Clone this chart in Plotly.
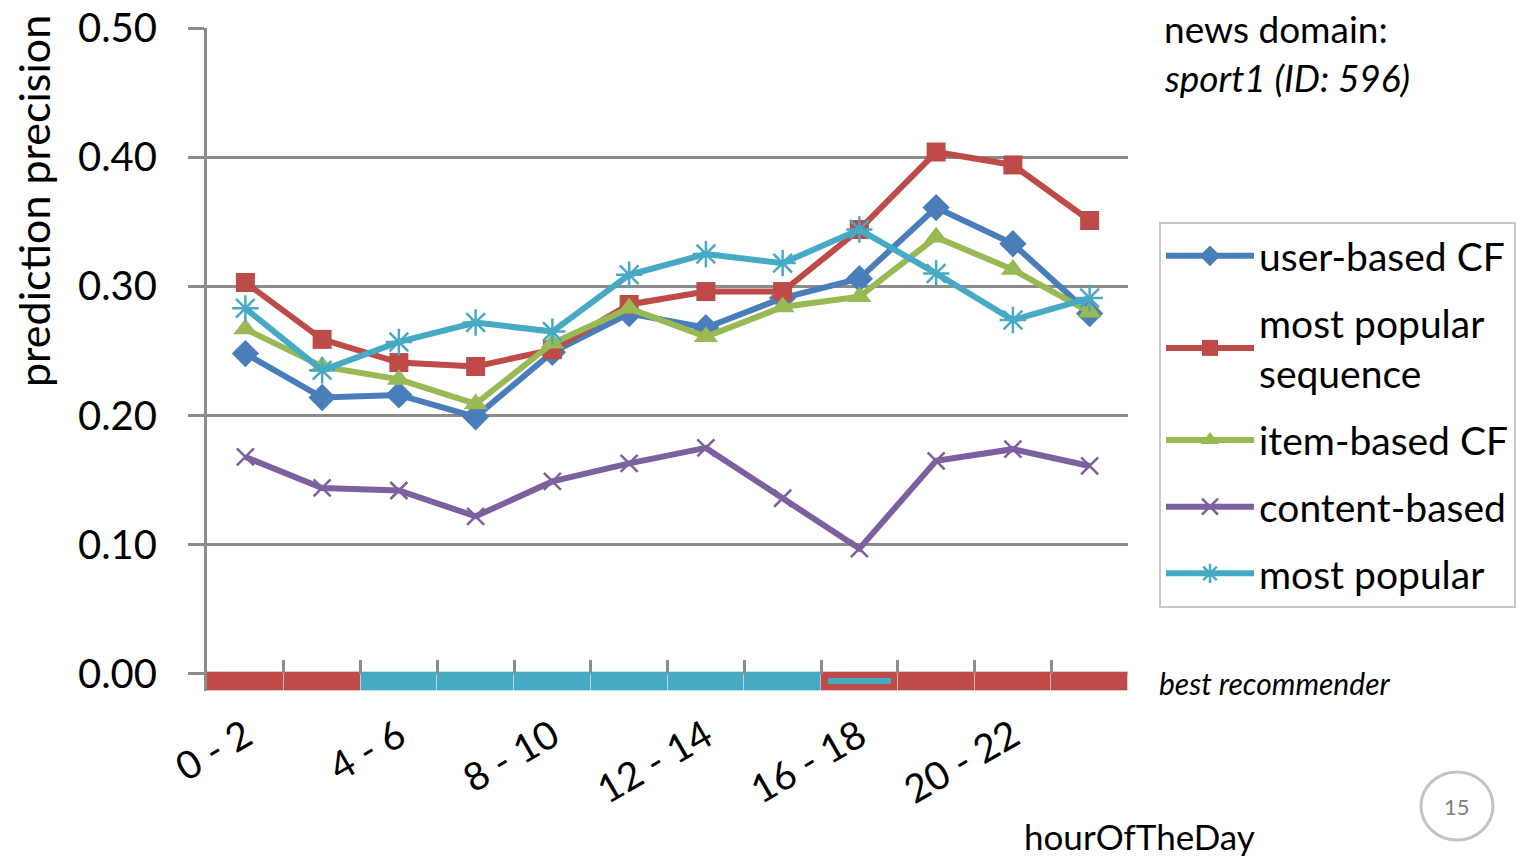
import plotly.graph_objects as go

# Two-hour slots of the day
hours = ["0 - 2", "2 - 4", "4 - 6", "6 - 8", "8 - 10", "10 - 12",
         "12 - 14", "14 - 16", "16 - 18", "18 - 20", "20 - 22", "22 - 24"]
shown_hours = hours[::2]

# Prediction precision per recommender
user_based_cf = [0.248, 0.214, 0.216, 0.199, 0.249, 0.279, 0.268, 0.291, 0.306, 0.361, 0.333, 0.279]
most_popular_sequence = [0.303, 0.259, 0.241, 0.238, 0.251, 0.286, 0.296, 0.296, 0.344, 0.404, 0.394, 0.351]
item_based_cf = [0.267, 0.238, 0.228, 0.209, 0.256, 0.283, 0.261, 0.284, 0.292, 0.338, 0.313, 0.280]
content_based = [0.168, 0.144, 0.142, 0.122, 0.149, 0.163, 0.175, 0.136, 0.097, 0.165, 0.174, 0.161]
most_popular = [0.283, 0.235, 0.257, 0.272, 0.265, 0.309, 0.325, 0.318, 0.344, 0.310, 0.274, 0.291]

y_ticks = [0.0, 0.1, 0.2, 0.3, 0.4, 0.5]
y_ticktext = ["0.00", "0.10", "0.20", "0.30", "0.40", "0.50"]

W, H = 1534, 857
FONT = "Lato, 'Open Sans', sans-serif"

series = [
    ("user-based CF", user_based_cf, "#4A7EBB", dict(symbol="diamond", size=21)),
    ("most popular<br>sequence", most_popular_sequence, "#BE4B48", dict(symbol="square", size=19)),
    ("item-based CF", item_based_cf, "#98B954", dict(symbol="triangle-up", size=21)),
    ("content-based", content_based, "#7D60A0", dict(symbol="x-thin-open", size=17, line=dict(width=2.5))),
    ("most popular", most_popular, "#46AAC5", dict(symbol="asterisk-open", size=22, line=dict(width=2.5))),
]

fig = go.Figure()

# Best recommender strip under the zero line: winner colour per slot,
# with a thin inner dash for a tied runner-up
best_colors, tie_x, tie_colors = [], [], []
for i in range(len(hours)):
    vals = [(s[1][i], s[2]) for s in series]
    top = max(v for v, _ in vals)
    winners = [c for v, c in vals if abs(v - top) < 1e-9]
    best_colors.append(winners[0])
    if len(winners) > 1:
        tie_x.append(hours[i])
        tie_colors.append(winners[-1])

strip_depth = 0.0145
fig.add_trace(go.Bar(
    x=hours, y=[-strip_depth] * len(hours), base=[0.0015] * len(hours), width=1.0,
    marker=dict(color=best_colors, line=dict(color="rgba(255,255,255,0.35)", width=1)),
    showlegend=False, hoverinfo="skip",
))
if tie_x:
    fig.add_trace(go.Bar(
        x=tie_x, y=[-0.004] * len(tie_x), base=[-0.0035] * len(tie_x), width=0.82,
        marker=dict(color=tie_colors, line=dict(width=0)),
        showlegend=False, hoverinfo="skip",
    ))

for i, (name, vals, color, marker) in enumerate(series):
    fig.add_trace(go.Scatter(
        x=hours, y=vals, name=name, mode="lines+markers",
        line=dict(color=color, width=6),
        marker=dict(color=color, **marker),
        legendgroup=str(i),
    ))

# Boundary ticks along the zero line
fig.add_trace(go.Scatter(x=[0.5], y=[0], xaxis="x2", mode="markers",
                         marker=dict(opacity=0), showlegend=False, hoverinfo="skip"))

x0, x1 = 207 / W, 1128 / W
y_top, y_bot = 28, 691
fig.update_layout(
    width=W, height=H,
    margin=dict(l=0, r=0, t=0, b=0, autoexpand=False),
    paper_bgcolor="white", plot_bgcolor="white",
    font=dict(family=FONT, color="black", size=38),
    barmode="overlay", bargap=0,
    xaxis=dict(
        domain=[x0, x1], type="category", categoryorder="array", categoryarray=hours,
        range=[-0.5, len(hours) - 0.5],
        tickmode="array", tickvals=shown_hours, ticktext=shown_hours,
        tickangle=-30, ticks="", ticklabelstandoff=14,
        showgrid=False, showline=False, zeroline=False,
        tickfont=dict(size=39), automargin=False,
    ),
    xaxis2=dict(
        overlaying="x", anchor="free", position=1 - 674 / H,
        range=[-0.5, len(hours) - 0.5], domain=[x0, x1],
        tickmode="array", tickvals=[i - 0.5 for i in range(len(hours) + 1)],
        ticks="inside", ticklen=14, tickwidth=3, tickcolor="#8c8c8c",
        showticklabels=False, showgrid=False, showline=False, zeroline=False,
    ),
    yaxis=dict(
        domain=[1 - y_bot / H, 1 - y_top / H],
        range=[-0.0132, 0.5],
        tickmode="array", tickvals=y_ticks, ticktext=y_ticktext,
        ticks="outside", ticklen=16, tickwidth=2.5, tickcolor="#8c8c8c",
        ticklabelstandoff=23,
        showgrid=True, gridcolor="#8c8c8c", gridwidth=2.5,
        showline=True, linecolor="#8c8c8c", linewidth=3,
        zeroline=False, automargin=False, tickfont=dict(size=40),
    ),
    legend=dict(
        x=1159 / W, y=1 - 222 / H, xanchor="left", yanchor="top",
        bordercolor="#c8c8c8", borderwidth=2, bgcolor="white",
        font=dict(size=39), traceorder="grouped", tracegroupgap=13,
        itemwidth=88,
    ),
    hovermode=False,
    showlegend=True,
)

ann = dict(xref="paper", yref="paper", showarrow=False)
fig.add_annotation(text="prediction precision", x=33 / W, y=1 - 201 / H, textangle=-90,
                   xanchor="center", yanchor="middle", font=dict(size=43), **ann)
fig.add_annotation(text="news domain:", x=1162 / W, y=1 - 28 / H,
                   xanchor="left", yanchor="middle", font=dict(size=37), **ann)
fig.add_annotation(text="<i>sport1 (ID: 596)</i>", x=1162 / W, y=1 - 77 / H,
                   xanchor="left", yanchor="middle", font=dict(size=37), **ann)
fig.add_annotation(text="<i>best recommender</i>", x=1157 / W, y=1 - 683 / H,
                   xanchor="left", yanchor="middle", font=dict(size=30), **ann)
fig.add_annotation(text="hourOfTheDay", x=1139 / W, y=1 - 836 / H,
                   xanchor="center", yanchor="middle", font=dict(size=35), **ann)

# Slide number badge
fig.add_shape(type="circle", xref="paper", yref="paper",
              x0=1421 / W, x1=1493 / W, y0=1 - 840 / H, y1=1 - 772 / H,
              line=dict(color="#c4c4c4", width=3))
fig.add_annotation(text="15", x=1457 / W, y=1 - 806 / H, xanchor="center", yanchor="middle",
                   font=dict(size=22, color="#808080"), **ann)

fig.write_html("out.html")
